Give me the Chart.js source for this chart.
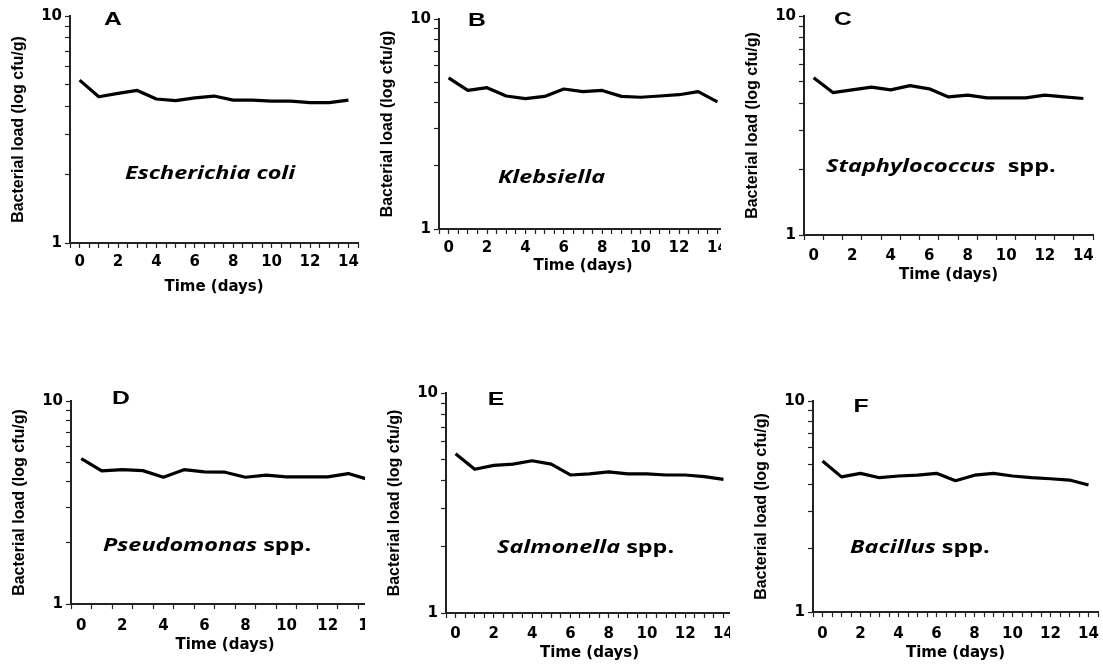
<!DOCTYPE html>
<html lang="en">
<head>
<meta charset="UTF-8">
<title>Bacterial load over time</title>
<script src="https://cdn.jsdelivr.net/npm/chart.js"></script>
<style>
  body { margin: 0; background: #fff; width: 1103px; height: 666px; position: relative; overflow: hidden; }
  .panel { position: absolute; overflow: hidden; }
  .panel canvas { display: block; }
</style>
</head>
<body>
<div class="panel" id="pA"><canvas id="cA"></canvas></div>
<div class="panel" id="pB"><canvas id="cB"></canvas></div>
<div class="panel" id="pC"><canvas id="cC"></canvas></div>
<div class="panel" id="pD"><canvas id="cD"></canvas></div>
<div class="panel" id="pE"><canvas id="cE"></canvas></div>
<div class="panel" id="pF"><canvas id="cF"></canvas></div>

<script>
// data (log scale, cfu/g)
const days = [0, 1, 2, 3, 4, 5, 6, 7, 8, 9, 10, 11, 12, 13, 14];
const ecoli          = [5.22, 4.41, 4.56, 4.70, 4.31, 4.24, 4.36, 4.44, 4.26, 4.26, 4.22, 4.22, 4.15, 4.15, 4.26];
const klebsiella     = [5.24, 4.57, 4.71, 4.30, 4.18, 4.28, 4.64, 4.51, 4.57, 4.28, 4.24, 4.30, 4.36, 4.51, 4.03];
const staphylococcus = [5.23, 4.47, 4.60, 4.73, 4.60, 4.81, 4.65, 4.27, 4.35, 4.23, 4.23, 4.23, 4.35, 4.27, 4.20];
const pseudomonas    = [5.20, 4.53, 4.59, 4.54, 4.21, 4.59, 4.48, 4.46, 4.21, 4.31, 4.23, 4.23, 4.23, 4.39, 4.10];
const salmonella     = [5.29, 4.50, 4.69, 4.75, 4.92, 4.75, 4.24, 4.29, 4.38, 4.29, 4.29, 4.24, 4.24, 4.17, 4.05];
const bacillus       = [5.19, 4.37, 4.54, 4.33, 4.41, 4.45, 4.54, 4.19, 4.45, 4.54, 4.41, 4.33, 4.28, 4.22, 4.00];

const xTickLabels = [0, 2, 4, 6, 8, 10, 12, 14];
const yTickLabels = [1, 10];

// box = [left, top, canvas width, canvas height], clip = visible width of the panel
// tickPad / titlePad = per-panel spacing under the x axis
const panels = [
  { key: 'A', name: 'Escherichia coli', suffix: '', values: ecoli, box: [-2, 0, 370, 303], clip: null, halfTicks: false, letterAt: [43, 4], nameAt: [55, 163], tickPad: 5, titlePad: 7 },
  { key: 'B', name: 'Klebsiella', suffix: '', values: klebsiella, box: [367, 3, 370, 286], clip: 354, halfTicks: false, letterAt: [38, 2], nameAt: [59, 164], tickPad: 5, titlePad: 14 },
  { key: 'C', name: 'Staphylococcus', suffix: '  spp.', values: staphylococcus, box: [732, 0, 371, 295], clip: null, halfTicks: true, letterAt: [39, 4], nameAt: [22, 156], tickPad: 7, titlePad: 11 },
  { key: 'D', name: 'Pseudomonas', suffix: ' spp.', values: pseudomonas, box: [-1, 385, 390, 279], clip: 366, halfTicks: true, letterAt: [50, -2], nameAt: [32, 150], tickPad: 8, titlePad: 10 },
  { key: 'E', name: 'Salmonella', suffix: ' spp.', values: salmonella, box: [374, 377, 369, 296], clip: 356, halfTicks: false, letterAt: [50, 7], nameAt: [51, 160], tickPad: 7, titlePad: 11 },
  { key: 'F', name: 'Bacillus', suffix: ' spp.', values: bacillus, box: [741, 385, 367, 287], clip: null, halfTicks: false, letterAt: [48, 6], nameAt: [37, 152], tickPad: 8, titlePad: 10 }
];

const ink = '#000';

// panel letter + organism name, drawn inside the plot area
function panelLabels(p) {
  return {
    id: 'panelLabels' + p.key,
    afterDatasetsDraw(chart) {
      const ctx = chart.ctx, a = chart.chartArea;
      ctx.save();
      ctx.fillStyle = ink;
      ctx.translate(a.left + p.letterAt[0], a.top + p.letterAt[1]);
      ctx.scale(1.3, 1);
      ctx.font = 'bold 19px "Liberation Sans"';
      ctx.textAlign = 'center';
      ctx.textBaseline = 'middle';
      ctx.fillText(p.key, 0, 0);
      ctx.restore();

      ctx.save();
      ctx.fillStyle = ink;
      ctx.translate(a.left + p.nameAt[0], a.top + p.nameAt[1]);
      ctx.scale(1.3, 1);
      ctx.textAlign = 'left';
      ctx.textBaseline = 'alphabetic';
      ctx.font = 'italic bold 18px "Open Sans"';
      ctx.fillText(p.name, 0, 0);
      if (p.suffix) {
        const w = ctx.measureText(p.name).width;
        ctx.font = 'bold 18px "Open Sans"';
        ctx.fillText(p.suffix, w, 0);
      }
      ctx.restore();
    }
  };
}

panels.forEach(p => {
  const wrap = document.getElementById('p' + p.key);
  const canvas = document.getElementById('c' + p.key);
  const [x, y, w, h] = p.box;
  wrap.style.left = x + 'px';
  wrap.style.top = y + 'px';
  wrap.style.width = (p.clip || w) + 'px';
  wrap.style.height = h + 'px';
  canvas.width = w;
  canvas.height = h;

  new Chart(canvas, {
    type: 'line',
    data: {
      datasets: [{
        data: days.map((d, i) => ({ x: d, y: p.values[i] })),
        borderColor: ink,
        borderWidth: 3.2,
        pointRadius: 0,
        tension: 0,
        borderJoinStyle: 'round',
        clip: false
      }]
    },
    options: {
      responsive: false,
      animation: false,
      devicePixelRatio: 1,
      layout: { padding: { left: 0, top: 16, right: 10, bottom: 0 } },
      plugins: { legend: { display: false }, tooltip: { enabled: false } },
      scales: {
        x: {
          type: 'linear',
          min: -0.5,
          max: 14.5,
          afterFit: s => { s.height = 60; },
          grid: {
            drawOnChartArea: false,
            tickLength: 5,
            tickWidth: 1.2,
            tickColor: c => (p.halfTicks && Number.isInteger(c.tick.value)) ? 'rgba(0,0,0,0)' : '#222'
          },
          border: { color: '#222', width: 2 },
          ticks: {
            stepSize: 0.5,
            maxTicksLimit: 40,
            autoSkip: false,
            maxRotation: 0,
            padding: p.tickPad,
            color: ink,
            font: { family: 'DejaVu Sans', weight: 'bold', size: 15 },
            callback: v => xTickLabels.includes(v) ? String(v) : ''
          },
          title: {
            display: true,
            text: 'Time (days)',
            color: ink,
            font: { family: 'DejaVu Sans', weight: 'bold', size: 15 },
            padding: { top: 0, bottom: p.titlePad }
          }
        },
        y: {
          type: 'logarithmic',
          min: 1,
          max: 10,
          afterFit: s => { s.width = 72; },
          afterBuildTicks: s => { s.ticks = [1, 2, 3, 4, 5, 6, 7, 8, 9, 10].map(v => ({ value: v })); },
          grid: { drawOnChartArea: false, tickLength: 5, tickWidth: 1.2, tickColor: '#222' },
          border: { color: '#222', width: 2 },
          ticks: {
            autoSkip: false,
            padding: 3,
            color: ink,
            font: { family: 'DejaVu Sans', weight: 'bold', size: 15 },
            major: { enabled: false },
            callback: v => yTickLabels.includes(v) ? String(v) : ''
          },
          title: {
            display: true,
            text: 'Bacterial load (log cfu/g)',
            color: ink,
            font: { family: 'Liberation Sans', weight: 'bold', size: 16 },
            padding: { top: 11, bottom: 0 }
          }
        }
      }
    },
    plugins: [panelLabels(p)]
  });
});
</script>
</body>
</html>
